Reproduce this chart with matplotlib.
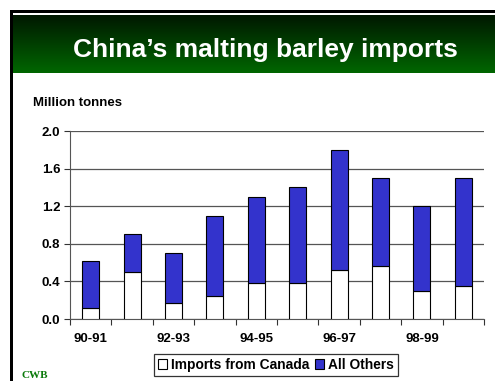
import numpy as np
import matplotlib
matplotlib.use("Agg")
from matplotlib import pyplot as plt
from matplotlib.patches import Rectangle, Patch

plt.rcParams["font.family"] = ["Liberation Sans", "DejaVu Sans"]
plt.rcParams["font.weight"] = "bold"

# data
seasons = ["90-91", "91-92", "92-93", "93-94", "94-95", "95-96",
           "96-97", "97-98", "98-99", "99-00"]
canada = [0.12, 0.50, 0.17, 0.25, 0.38, 0.38, 0.52, 0.56, 0.30, 0.35]
total = [0.62, 0.90, 0.70, 1.10, 1.30, 1.40, 1.80, 1.50, 1.20, 1.50]
others = [t - c for t, c in zip(total, canada)]
yticks = [0.0, 0.4, 0.8, 1.2, 1.6, 2.0]

W, H = 495, 381
fig = plt.figure(figsize=(W / 100, H / 100), dpi=100)
fig.patch.set_facecolor("white")


def box(x0, y0, x1, y1):
    # pixel box (top-left origin) -> figure fraction rect
    return [x0 / W, 1 - y1 / H, (x1 - x0) / W, (y1 - y0) / H]


# slide frame
fig.add_artist(Rectangle((10 / W, 0), 3 / W, 1 - 10 / H, transform=fig.transFigure,
                         color="black", lw=0))
fig.add_artist(Rectangle((10 / W, 1 - 12.5 / H), 1, 2.5 / H, transform=fig.transFigure,
                         color="black", lw=0))

# green gradient banner
ban = fig.add_axes(box(13, 15, 495, 73))
grad = np.linspace(0, 1, 100).reshape(-1, 1)
cmap = matplotlib.colors.LinearSegmentedColormap.from_list("g", ["#001800", "#006600"])
ban.imshow(grad, aspect="auto", cmap=cmap, extent=[0, 1, 1, 0])
ban.set_axis_off()
fig.text(265 / W, 1 - 57 / H, "China\u2019s malting barley imports", color="white",
         fontsize=19, fontweight="bold", ha="center", va="baseline")

fig.text(33 / W, 1 - 103 / H, "Million tonnes", fontsize=9.5, fontweight="bold",
         ha="left", va="center")

fs = 9.5
ax = fig.add_axes(box(70, 131, 484, 319))
x = np.arange(len(seasons))
ax.bar(x, canada, width=0.41, color="white", edgecolor="black", linewidth=0.8, zorder=3,
       label="Imports from Canada")
ax.bar(x, others, bottom=canada, width=0.41, color="#3333CC", edgecolor="black",
       linewidth=0.8, zorder=3, label="All Others")

ax.set_xlim(-0.5, len(seasons) - 0.5)
ax.set_ylim(0, 2.0)
ax.set_yticks(yticks)
ax.set_yticklabels([f"{v:.1f}" for v in yticks], fontsize=fs, fontweight="bold")
ax.yaxis.grid(True, color="#555555", linewidth=0.9, zorder=0)
ax.set_axisbelow(True)

ax.set_xticks(np.arange(len(seasons) + 1) - 0.5)
ax.set_xticklabels([])
ax.tick_params(axis="x", direction="out", length=4, color="#333333")
ax.tick_params(axis="y", direction="out", length=4, color="#333333", pad=3)
for i in range(0, len(seasons), 2):
    ax.text(i, -0.21, seasons[i], ha="center", va="center", fontsize=fs,
            fontweight="bold", transform=ax.transData, clip_on=False)

for s in ["top", "right"]:
    ax.spines[s].set_visible(False)
ax.spines["left"].set_color("#555555")
ax.spines["bottom"].set_color("#555555")

handles = [Patch(facecolor="white", edgecolor="black", linewidth=0.8),
           Patch(facecolor="#3333CC", edgecolor="black", linewidth=0.8)]
leg = fig.legend(handles, ["Imports from Canada", "All Others"], loc="center",
                 bbox_to_anchor=(276 / W, 1 - 365 / H), ncol=2, fontsize=9.9,
                 frameon=True, fancybox=False, edgecolor="black",
                 handlelength=0.7, handleheight=0.7, handletextpad=0.3,
                 columnspacing=0.35, borderpad=0.3, borderaxespad=0)
leg.get_frame().set_linewidth(0.9)
for t in leg.get_texts():
    t.set_fontweight("bold")

# CWB logo at the bottom-left corner of the slide
fig.text(22 / W, 1 / H, "CWB", color="#0a7a0a", fontsize=8, fontweight="bold",
         family="Liberation Serif", ha="left", va="bottom")

fig.savefig("out.png", dpi=100)
